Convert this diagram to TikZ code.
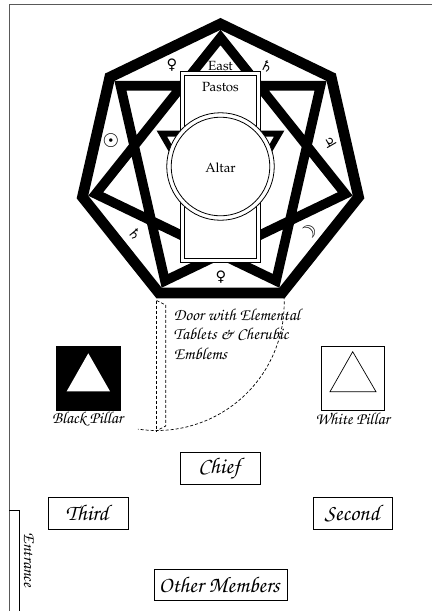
\documentclass[tikz,border=0pt]{standalone}
\usepackage{fontspec}
\setmainfont{TeX Gyre Chorus}
\newfontfamily\palfont{TeX Gyre Pagella}
\newfontfamily\symfont{DejaVu Sans}
\tikzset{
 box/.style={draw,line width=.8pt,inner sep=0pt},
 person/.style={box,minimum height=31.5pt,font=\fontsize{22.5}{24}\selectfont},
 lbl/.style={inner sep=0pt,font=\fontsize{16.8}{19.5}\selectfont},
 upright/.style={inner sep=0pt,font=\palfont\fontsize{13.3}{15}\selectfont},
 sym/.style={inner sep=0pt,font=\symfont\fontsize{14.5}{15}\selectfont},
 bigsym/.style={inner sep=0pt,font=\symfont\fontsize{19}{19}\selectfont},
 hepta band/.style={line width=10.7pt,miter limit=20,line join=miter},
 star band/.style={line width=9.6pt,miter limit=20,line join=miter},
 tri band/.style={line width=6pt,miter limit=20,line join=miter},
 door/.style={densely dashed,line width=.7pt},
}
\begin{document}
\begin{tikzpicture}[x=1pt,y=-1pt]
\useasboundingbox (0,0) rectangle (432,611);
\draw[gray!70!black,line width=.8pt] (9,611) -- (9,4.7) -- (432,4.7);
\foreach \i in {0,...,6}{
  \coordinate (h\i) at ({220.5+141.6*sin(\i*360/7)},{165.5-141.6*cos(\i*360/7)});
  \coordinate (s\i) at ({220.5+128*sin(\i*360/7)},{165.5-128*cos(\i*360/7)});
}
\draw[hepta band] (h0)--(h1)--(h2)--(h3)--(h4)--(h5)--(h6)--cycle;
\draw[star band] (s0)--(s2)--(s4)--(s6)--(s1)--(s3)--(s5)--cycle;
\coordinate (t1) at (161.9,133.7); \coordinate (t2) at (279.1,133.7); \coordinate (t3) at (220.5,235);
\draw[tri band] (t1)--(t2)--(t3)--cycle;
\node[box,fill=white,minimum width=80pt,minimum height=191pt] (pastos) at (220.7,166.8) {};
\node[box,fill=white,minimum width=72.4pt,minimum height=183pt] (pastosin) at (220.5,166.8) {};
\node[circle,draw,fill=white,minimum size=107.5pt,inner sep=0pt,line width=.8pt] (altar) at (220.5,166.5) {};
\node[circle,draw,fill=white,minimum size=98.6pt,inner sep=0pt,line width=.8pt] (altarin) at (220.5,166.5) {};
\node[upright] (e) at (220.5,66) {East};
\node[upright] (p) at (220.5,87) {Pastos};
\node[upright] (a) at (220.5,168) {Altar};
\node[sym] (v1) at (172,65) {♀};
\node[sym,rotate=-25] (sat1) at (267,66) {♄};
\node[bigsym] (sun) at (111,141) {☉};
\node[sym,rotate=-60] (jup) at (330,142) {♃};
\node[sym,rotate=-50] (mars) at (135,234) {♄};
\node[bigsym,rotate=45] (moon) at (309,233) {☽};
\node[sym] (v2) at (221,277) {♀};
\coordinate (d1) at (156.7,300.5); \coordinate (d2) at (156.7,430.7);
\coordinate (d3) at (165.7,305); \coordinate (d4) at (165.7,426);
\draw[door] (d1) -- (d2);
\draw[door] (d1) -- (d3) -- (d4) -- (d2);
\draw[door] plot[smooth,domain=-3:98.5,samples=40] ({156.7+127.5*cos(\x)},{303+127.5*sin(\x)});
\node[lbl,align=left,anchor=north west] (dt) at (173.5,308.5) {Door with Elemental\\Tablets \& Cherubic\\Emblems};
\node[draw=black,fill=black,minimum size=64.7pt,inner sep=0pt] (bp) at (88.3,378.3) {};
\fill[white] (88.3,353.3) -- (110,391.3) -- (66.7,391.3) -- cycle;
\node[lbl] (bpl) at (87.5,419) {Black Pillar};
\node[box,minimum size=63.4pt] (wp) at (353,378.4) {};
\draw[line width=.7pt] (352.7,351.7) -- (376,391.7) -- (330,391.7) -- cycle;
\node[lbl] (wpl) at (352.5,419) {White Pillar};
\node[person,minimum width=80pt] (chief) at (220.7,468.5) {\hspace{-3pt}Chief};
\node[person,minimum width=79.6pt] (third) at (88.5,513.3) {\hspace{-3pt}Third};
\node[person,minimum width=79.4pt] (second) at (353,513.3) {\hspace{-2pt}Second};
\node[person,minimum width=132.7pt] (other) at (220.7,584.8) {\hspace{-3pt}Other Members};
\draw[line width=.8pt] (9,510.7) -- (19.3,510.7) -- (19.3,611);
\node[lbl,rotate=-90] (ent) at (29,560) {Entrance};
\end{tikzpicture}
\end{document}
